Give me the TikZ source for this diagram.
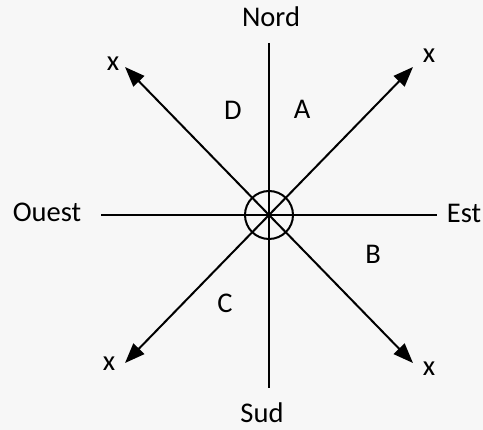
\documentclass[tikz,border=0pt]{standalone}
\usepackage{fontspec}
\setmainfont{Carlito}
\usetikzlibrary{arrows.meta}
\begin{document}
\begin{tikzpicture}[x = 1pt, y = -1pt,
    axe/.style = {line width = 2pt},
    fleche/.style = {line width = 2pt, -{Triangle[length = 20pt, width = 15pt]}},
    etiquette/.style = {font = \fontsize{28.5}{32}\selectfont, inner sep = 0pt, anchor = base}]
  \fill [black!3] (0,0) rectangle (483,430);
  \useasboundingbox (0,0) rectangle (483,430);
  % points
  \coordinate (O) at (269,215);
  \coordinate (n) at (269,43);
  \coordinate (s) at (269,388);
  \coordinate (w) at (101,215);
  \coordinate (e) at (437,215);
  \coordinate (ne) at (413,67);
  \coordinate (nw) at (125,67);
  \coordinate (sw) at (125,363);
  \coordinate (se) at (413,363);
  % axes
  \draw [axe] (n) -- (s);
  \draw [axe] (w) -- (e);
  \draw [axe] (O) circle (24);
  \foreach \p in {ne, nw, sw, se}
    \draw [fleche] (O) -- (\p);
  % textes
  \node [etiquette] (nord) at (271,27) {Nord};
  \node [etiquette] (sud) at (262,423) {Sud};
  \node [etiquette] (ouest) at (47,222) {Ouest};
  \node [etiquette] (est) at (464,223) {Est};
  \node [etiquette] (xnw) at (113,71) {x};
  \node [etiquette] (xne) at (429,63) {x};
  \node [etiquette] (xsw) at (109,371) {x};
  \node [etiquette] (xse) at (429,376) {x};
  \node [etiquette] (D) at (233,120) {D};
  \node [etiquette] (A) at (302,119) {A};
  \node [etiquette] (B) at (373,264) {B};
  \node [etiquette] (C) at (225,313) {C};
\end{tikzpicture}
\end{document}
